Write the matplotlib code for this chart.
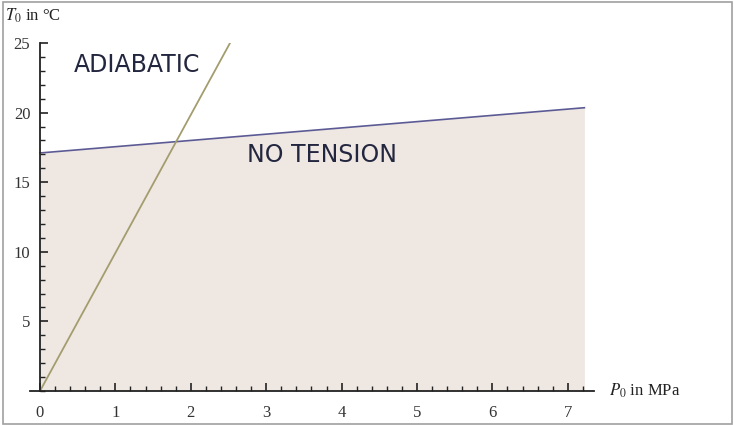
import matplotlib.pyplot as plt
from matplotlib.patches import Rectangle
from matplotlib.ticker import MultipleLocator

# Boundary lines in the (P0, T0) plane
p_tension = [0.0, 7.22]
t_tension = [17.1, 20.35]
p_adiabatic = [0.0, 2.52]
t_adiabatic = [0.0, 25.0]

x_ticks = [0, 1, 2, 3, 4, 5, 6, 7]
y_ticks = [5, 10, 15, 20, 25]

plt.rcParams['mathtext.fontset'] = 'stix'
plt.rcParams['font.family'] = 'Liberation Serif'


def main():
    fig = plt.figure(figsize=(7.34, 4.25), dpi=100)
    W, H = 734, 425
    # axes placed in pixels: origin at (40, 391), 75.4 px per MPa, 13.92 px per degree
    x0, x1 = -0.13, 7.35
    left = 40 + x0 * 75.4
    width = (x1 - x0) * 75.4
    bottom = H - 391
    height = 25 * 13.92
    ax = fig.add_axes([left / W, bottom / H, width / W, height / H])

    # frame around the whole picture
    fig.patches.append(Rectangle((2.5 / W, 1.5 / H), (W - 5) / W, (H - 3) / H,
                                 transform=fig.transFigure, fill=False,
                                 edgecolor='#a0a0a0', linewidth=1.2))

    ax.fill_between(p_tension, t_tension, 0, color='#efe7e2', linewidth=0)
    ax.plot(p_tension, t_tension, color='#5c5a94', linewidth=1.2)
    ax.plot(p_adiabatic, t_adiabatic, color='#a39d6e', linewidth=1.3)

    ax.set_xlim(x0, x1)
    ax.set_ylim(0, 25)
    for s in ['top', 'right']:
        ax.spines[s].set_visible(False)
    ax.spines['left'].set_position(('data', 0))
    ax.spines['bottom'].set_position(('data', 0))
    ax.spines['left'].set_bounds(0, 25)
    for s in ['left', 'bottom']:
        ax.spines[s].set_linewidth(1.3)
        ax.spines[s].set_color('#222222')

    ax.set_xticks(x_ticks)
    ax.set_yticks(y_ticks)
    ax.xaxis.set_minor_locator(MultipleLocator(0.2))
    ax.yaxis.set_minor_locator(MultipleLocator(1))
    ax.tick_params(which='major', direction='in', length=6, width=1.2, color='#222222',
                   labelsize=12, labelcolor='#333333')
    ax.tick_params(axis='x', which='major', pad=10)
    ax.tick_params(axis='y', which='major', pad=7)
    ax.tick_params(which='minor', direction='in', length=3.5, width=1.0, color='#222222')
    ax.set_facecolor('none')

    ax.text(7.55, 0, r"$P_0$ in MPa", fontsize=12, va='center', ha='left',
            clip_on=False, color='#222222')
    fig.text(5 / W, 1 - 16 / H, r"$T_0$ in °C", fontsize=12, va='center', ha='left',
             color='#222222')

    ax.text(1.29, 23.4, "ADIABATIC", family='DejaVu Sans', fontsize=17,
            color='#23263f', ha='center', va='center')
    ax.text(3.74, 16.95, "NO TENSION", family='DejaVu Sans', fontsize=17,
            color='#23263f', ha='center', va='center')

    plt.savefig('out.png', dpi=100)


if __name__ == "__main__":
    main()
